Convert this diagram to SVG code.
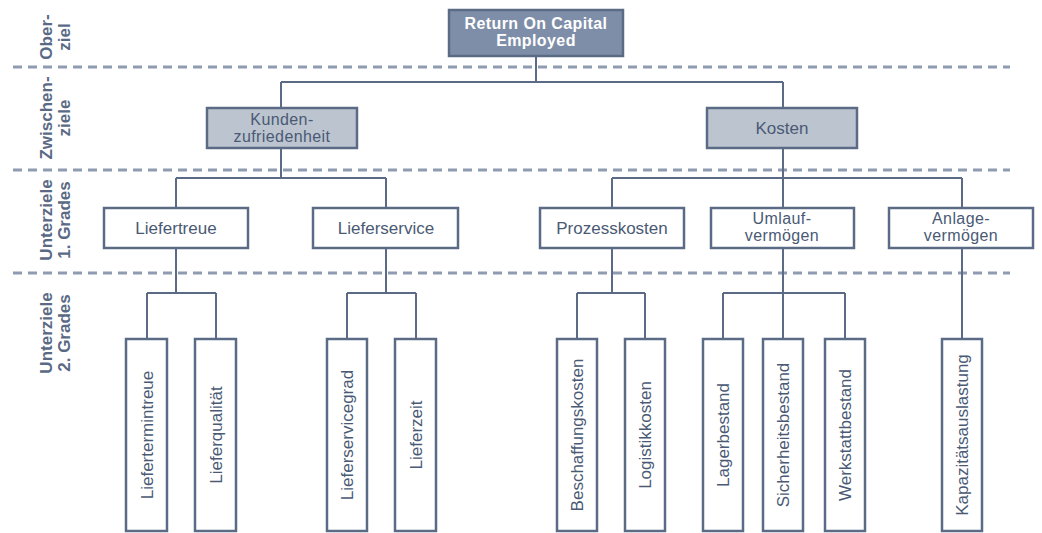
<svg xmlns="http://www.w3.org/2000/svg" width="1042" height="533" viewBox="0 0 1042 533">
<style>
.box{fill:#ffffff;stroke:#5b6b86;stroke-width:2.5}
.mid{fill:#bcc4cf;stroke:#5b6b86;stroke-width:2.5}
.top{fill:#7f8ea8;stroke:#5b6b86;stroke-width:2.5}
.t{font-family:"Liberation Sans",Arial,sans-serif;font-size:17px;fill:#4a5a75;text-anchor:middle}
.t2{font-family:"Liberation Sans",Arial,sans-serif;font-size:16px;letter-spacing:0.4px;fill:#4a5a75;text-anchor:middle}
.tw{font-family:"Liberation Sans",Arial,sans-serif;font-size:16px;letter-spacing:0.4px;font-weight:bold;fill:#ffffff;text-anchor:middle}
.lbl{font-family:"Liberation Sans",Arial,sans-serif;font-size:17px;font-weight:bold;fill:#5a6a85;text-anchor:middle}
.dash{stroke:#8f9bb0;stroke-width:3;stroke-dasharray:9 6;fill:none}
.c{stroke:#5b6b86;stroke-width:2;fill:none}
</style>
<g id="separators">
<line class="dash" x1="13" y1="67" x2="1010" y2="67"/>
<line class="dash" x1="13" y1="170" x2="1010" y2="170"/>
<line class="dash" x1="13" y1="273" x2="1010" y2="273"/>
</g>
<g id="level-labels">
<g transform="translate(0,37) rotate(-90)"><text class="lbl" x="0" y="52">Ober-</text><text class="lbl" x="0" y="70">ziel</text></g>
<g transform="translate(0,118) rotate(-90)"><text class="lbl" x="0" y="52">Zwischen-</text><text class="lbl" x="0" y="70">ziele</text></g>
<g transform="translate(0,220) rotate(-90)"><text class="lbl" x="0" y="52">Unterziele</text><text class="lbl" x="0" y="70">1. Grades</text></g>
<g transform="translate(0,333) rotate(-90)"><text class="lbl" x="0" y="52">Unterziele</text><text class="lbl" x="0" y="70">2. Grades</text></g>
</g>
<g id="connectors">
<path class="c" d="M536 56V82M281 82H783M281 82V108M783 82V108"/>
<path class="c" d="M281 148V178M176 178H386M176 178V208M386 178V208"/>
<path class="c" d="M783 148V178M612 178H962M612 178V208M783 178V208M962 178V208"/>
<path class="c" d="M176 248V293M147 293H216M147 293V339M216 293V339"/>
<path class="c" d="M386 248V293M347 293H416M347 293V339M416 293V339"/>
<path class="c" d="M612 248V293M577 293H645M577 293V339M645 293V339"/>
<path class="c" d="M783 248V339M723 293H845M723 293V339M845 293V339"/>
<path class="c" d="M962 248V339"/>
</g>
<g id="n-roce"><rect class="top" x="449" y="10" width="174" height="46"/><text class="tw" x="536" y="29">Return On Capital</text><text class="tw" x="536" y="46">Employed</text></g>
<g id="n-kundenzufriedenheit"><rect class="mid" x="207" y="108" width="150" height="40"/><text class="t2" x="282" y="125">Kunden-</text><text class="t2" x="282" y="142">zufriedenheit</text></g>
<g id="n-kosten"><rect class="mid" x="707" y="108" width="150" height="40"/><text class="t" x="782" y="134">Kosten</text></g>
<g id="n-liefertreue"><rect class="box" x="104" y="208" width="144" height="40"/><text class="t" x="176" y="234">Liefertreue</text></g>
<g id="n-lieferservice"><rect class="box" x="313" y="208" width="145" height="40"/><text class="t" x="386" y="234">Lieferservice</text></g>
<g id="n-prozesskosten"><rect class="box" x="540" y="208" width="144" height="40"/><text class="t" x="612" y="234">Prozesskosten</text></g>
<g id="n-umlaufvermoegen"><rect class="box" x="711" y="208" width="143" height="40"/><text class="t2" x="782" y="224">Umlauf-</text><text class="t2" x="782" y="241">vermögen</text></g>
<g id="n-anlagevermoegen"><rect class="box" x="889" y="208" width="144" height="40"/><text class="t2" x="961" y="224">Anlage-</text><text class="t2" x="961" y="241">vermögen</text></g>
<g id="n-liefertermintreue"><rect class="box" x="126" y="339" width="41" height="192"/><text class="t" transform="translate(153,435) rotate(-90)">Liefertermintreue</text></g>
<g id="n-lieferqualitaet"><rect class="box" x="195" y="339" width="41" height="192"/><text class="t" transform="translate(222,435) rotate(-90)">Lieferqualität</text></g>
<g id="n-lieferservicegrad"><rect class="box" x="327" y="339" width="40" height="192"/><text class="t" transform="translate(353,435) rotate(-90)">Lieferservicegrad</text></g>
<g id="n-lieferzeit"><rect class="box" x="395" y="339" width="41" height="192"/><text class="t" transform="translate(422,435) rotate(-90)">Lieferzeit</text></g>
<g id="n-beschaffungskosten"><rect class="box" x="557" y="339" width="40" height="192"/><text class="t" transform="translate(583,435) rotate(-90)">Beschaffungskosten</text></g>
<g id="n-logistikkosten"><rect class="box" x="625" y="339" width="40" height="192"/><text class="t" transform="translate(651,435) rotate(-90)">Logistikkosten</text></g>
<g id="n-lagerbestand"><rect class="box" x="703" y="339" width="40" height="192"/><text class="t" transform="translate(729,435) rotate(-90)">Lagerbestand</text></g>
<g id="n-sicherheitsbestand"><rect class="box" x="763" y="339" width="40" height="192"/><text class="t" transform="translate(789,435) rotate(-90)">Sicherheitsbestand</text></g>
<g id="n-werkstattbestand"><rect class="box" x="825" y="339" width="40" height="192"/><text class="t" transform="translate(851,435) rotate(-90)">Werkstattbestand</text></g>
<g id="n-kapazitaetsauslastung"><rect class="box" x="942" y="339" width="40" height="192"/><text class="t" transform="translate(968,435) rotate(-90)">Kapazitätsauslastung</text></g>
</svg>
